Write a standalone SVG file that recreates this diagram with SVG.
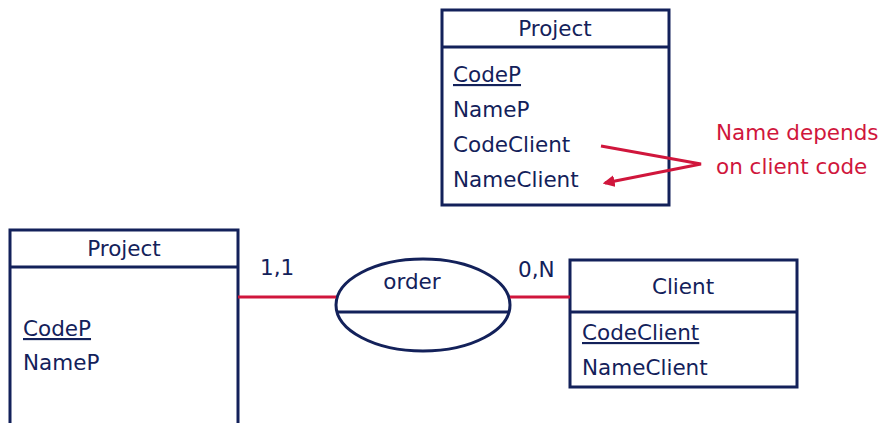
<svg xmlns="http://www.w3.org/2000/svg" width="882" height="423" viewBox="0 0 882 423">
  <style>
    .box { fill: #ffffff; stroke: #13215a; stroke-width: 3; }
    .sep { stroke: #13215a; stroke-width: 3; }
    .t { font-family: "DejaVu Sans", "Liberation Sans", sans-serif; font-size: 21.5px; fill: #13215a; }
    .c { text-anchor: middle; }
    .key { text-decoration: underline; }
    .rel { stroke: #d0163c; stroke-width: 3; fill: none; }
    .note { font-family: "DejaVu Sans", "Liberation Sans", sans-serif; font-size: 21.5px; fill: #d0163c; }
  </style>
  <defs>
    <marker id="arrow" viewBox="0 0 10 10" refX="8" refY="5" markerWidth="4" markerHeight="4" orient="auto">
      <path d="M0,0 L10,5 L0,10 z" fill="#d0163c"/>
    </marker>
  </defs>
  <rect width="882" height="423" fill="#ffffff"/>

  <!-- Unnormalised Project table -->
  <g id="project-top">
    <rect class="box" x="442" y="10" width="227" height="195"/>
    <line class="sep" x1="442" y1="47" x2="669" y2="47"/>
    <text class="t c" x="555" y="36">Project</text>
    <text class="t key" x="453" y="82">CodeP</text>
    <text class="t" x="453" y="117">NameP</text>
    <text class="t" x="453" y="152">CodeClient</text>
    <text class="t" x="453" y="187">NameClient</text>
  </g>

  <!-- Annotation -->
  <g id="note">
    <text class="note" x="716" y="140">Name depends</text>
    <text class="note" x="716" y="174">on client code</text>
  </g>

  <!-- Project entity -->
  <g id="project">
    <rect class="box" x="10" y="230" width="228" height="200"/>
    <line class="sep" x1="10" y1="267" x2="238" y2="267"/>
    <text class="t c" x="124" y="256">Project</text>
    <text class="t key" x="23" y="336">CodeP</text>
    <text class="t" x="23" y="370">NameP</text>
  </g>

  <!-- order relationship -->
  <g id="order">
    <ellipse class="box" cx="423" cy="305" rx="87" ry="46"/>
    <line class="sep" x1="337" y1="312" x2="509" y2="312"/>
    <text class="t c" x="412" y="289">order</text>
  </g>

  <!-- Cardinalities -->
  <g id="cardinalities">
    <text class="t" x="260" y="275">1,1</text>
    <text class="t" x="518" y="277">0,N</text>
  </g>

  <!-- Client entity -->
  <g id="client">
    <rect class="box" x="570" y="260" width="227" height="127"/>
    <line class="sep" x1="570" y1="312" x2="797" y2="312"/>
    <text class="t c" x="683" y="294">Client</text>
    <text class="t key" x="582" y="340">CodeClient</text>
    <text class="t" x="582" y="375">NameClient</text>
  </g>

  <!-- Connectors, drawn last so they sit on top of the boxes -->
  <g id="connectors">
    <line class="rel" x1="238" y1="297" x2="336" y2="297"/>
    <line class="rel" x1="510" y1="297" x2="570" y2="297"/>
    <polyline class="rel" points="601,146 701,164 605,183" stroke-width="2.5" marker-end="url(#arrow)"/>
  </g>
</svg>
